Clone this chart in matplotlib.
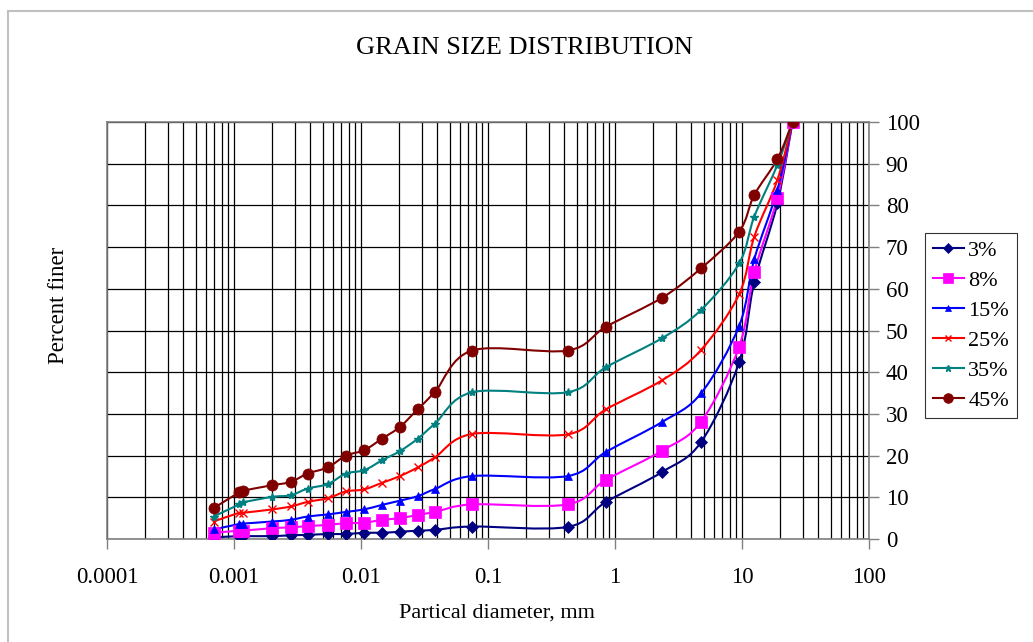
import numpy as np
import matplotlib
matplotlib.use("Agg")
import matplotlib.pyplot as plt
from matplotlib.path import Path
from matplotlib.patches import PathPatch, Rectangle
from matplotlib.lines import Line2D

plt.rcParams['font.family'] = ['Liberation Serif', 'DejaVu Serif']

# particle diameters (mm): sieves then hydrometer readings
diameter = [25, 19, 12.5, 9.5, 4.75, 2.36, 0.85, 0.425, 0.075,
            0.0383, 0.0281, 0.0203, 0.0147, 0.0106, 0.0076, 0.0055,
            0.0038, 0.0028, 0.0020, 0.00118, 0.0011, 0.00069]

finer_3 = [100, 80.5, 61.6, 42.4, 23.2, 16.1, 8.9, 2.9, 3.0,
           2.2, 2.0, 1.75, 1.5, 1.5, 1.2, 1.2, 1.0, 0.9, 0.7, 0.7, 0.7, 0.4]
finer_8 = [100, 81.8, 64.0, 46.1, 28.1, 21.2, 14.2, 8.3, 8.3,
           6.5, 5.8, 5.0, 4.6, 3.9, 3.8, 3.4, 3.1, 2.8, 2.6, 2.0, 2.0, 1.5]
finer_15 = [100, 83.7, 67.1, 51.1, 34.9, 28.1, 20.9, 15.1, 15.1,
            12.0, 10.3, 9.2, 8.2, 7.1, 6.5, 5.9, 5.4, 4.6, 4.2, 3.7, 3.6, 2.3]
finer_25 = [100, 86.1, 72.5, 58.7, 45.3, 38.1, 31.1, 25.1, 25.2,
            19.6, 17.2, 15.1, 13.5, 11.9, 11.4, 9.8, 8.9, 7.8, 7.1, 6.3, 6.3, 4.2]
finer_35 = [100, 89.7, 77.3, 66.1, 54.9, 48.2, 41.2, 35.2, 35.2,
            27.7, 24.1, 21.1, 18.9, 16.5, 15.7, 13.2, 12.1, 10.5, 10.1, 8.8, 8.3, 5.4]
finer_45 = [100, 91.1, 82.5, 73.7, 64.9, 57.9, 50.9, 45.2, 45.2,
            35.3, 31.2, 26.9, 24.1, 21.3, 20.0, 17.2, 15.7, 13.7, 12.9, 11.6, 11.2, 7.4]

labels = ['3%', '8%', '15%', '25%', '35%', '45%']
colors = ['#000080', '#ff00ff', '#0000ff', '#ff0000', '#008080', '#800000']
markers = ['D', 's', '^', 'x', '*', 'o']
msizes = [6, 8, 6, 6, 6, 8]


def smooth_path(x, y):
    """Excel-like smoothed line: Catmull-Rom bezier in (log x, y) space."""
    lx = np.log10(np.asarray(x, float))
    yy = np.asarray(y, float)
    n = len(lx)
    verts = [(lx[0], yy[0])]
    codes = [Path.MOVETO]
    for i in range(n - 1):
        p0 = np.array([lx[max(i - 1, 0)], yy[max(i - 1, 0)]])
        p1 = np.array([lx[i], yy[i]])
        p2 = np.array([lx[i + 1], yy[i + 1]])
        p3 = np.array([lx[min(i + 2, n - 1)], yy[min(i + 2, n - 1)]])
        c1 = p1 + (p2 - p0) / 6.0
        c2 = p2 - (p3 - p1) / 6.0
        verts += [tuple(c1), tuple(c2), tuple(p2)]
        codes += [Path.CURVE4] * 3
    verts = [(10 ** vx, vy) for vx, vy in verts]
    return Path(verts, codes)


fig = plt.figure(figsize=(10.33, 6.42), dpi=100)
ax = fig.add_axes([0.1036, 0.1604, 0.7376, 0.6496])

series = [finer_3, finer_8, finer_15, finer_25, finer_35, finer_45]
handles = []
for vals, lab, c, m, ms in zip(series, labels, colors, markers, msizes):
    mew = 1.0 if m in 'x*' else 0.5
    ax.add_patch(PathPatch(smooth_path(diameter, vals), fill=False,
                           edgecolor=c, lw=1.5, zorder=3))
    ax.plot(diameter, vals, linestyle='none', marker=m, color=c,
            markersize=ms, markeredgewidth=mew, zorder=4)
    handles.append(Line2D([], [], color=c, lw=1.5, marker=m, markersize=ms - 1,
                          markeredgewidth=mew, label=lab))

ax.set_xscale('log')
ax.set_xlim(0.0001, 100)
ax.set_ylim(0, 100)
ax.set_xticks([0.0001, 0.001, 0.01, 0.1, 1, 10, 100])
ax.set_xticklabels(['0.0001', '0.001', '0.01', '0.1', '1', '10', '100'])
ax.xaxis.set_minor_locator(matplotlib.ticker.LogLocator(base=10, subs=np.arange(2, 10)))
ax.xaxis.set_minor_formatter(matplotlib.ticker.NullFormatter())
ax.set_yticks(np.arange(0, 101, 10))

ax.grid(True, which='major', axis='both', color='black', lw=0.9, zorder=0)
ax.grid(True, which='minor', axis='x', color='black', lw=0.9, zorder=0)
ax.set_axisbelow(True)

ax.yaxis.tick_right()
ax.tick_params(axis='y', which='both', direction='out', length=7, width=1,
               color='#808080', labelsize=16.5, pad=5, left=False)
ax.tick_params(axis='x', which='major', direction='out', length=7, width=1,
               color='#808080', labelsize=16.5, pad=13)
ax.tick_params(axis='x', which='minor', length=0)
for sp in ax.spines.values():
    sp.set_color('#808080')
    sp.set_linewidth(1.2)

ax.set_xlabel('Partical diameter, mm', fontsize=16)
ax.xaxis.set_label_coords(0.512, -0.155)
ax.set_ylabel('Percent finer', fontsize=16.5)
ax.yaxis.set_label_position('left')
ax.yaxis.set_label_coords(-0.05, 0.56)
fig.text(0.508, 0.926, 'GRAIN SIZE DISTRIBUTION', ha='center', va='center',
         fontsize=19)

leg = ax.legend(handles=handles, loc='upper left', bbox_to_anchor=(1.0735, 0.734),
                frameon=True, fancybox=False, edgecolor='black', fontsize=16,
                handlelength=1.4, handletextpad=0.2, labelspacing=0.42,
                borderpad=0.35, borderaxespad=0)
leg.get_frame().set_linewidth(0.8)

fig.patches.append(Rectangle((8 / 1033, -0.1), 1.2, (642 - 11) / 642 + 0.1,
                             transform=fig.transFigure, fill=False,
                             edgecolor='#c0c0c0', lw=1.5))

fig.savefig('out.png', dpi=100)
